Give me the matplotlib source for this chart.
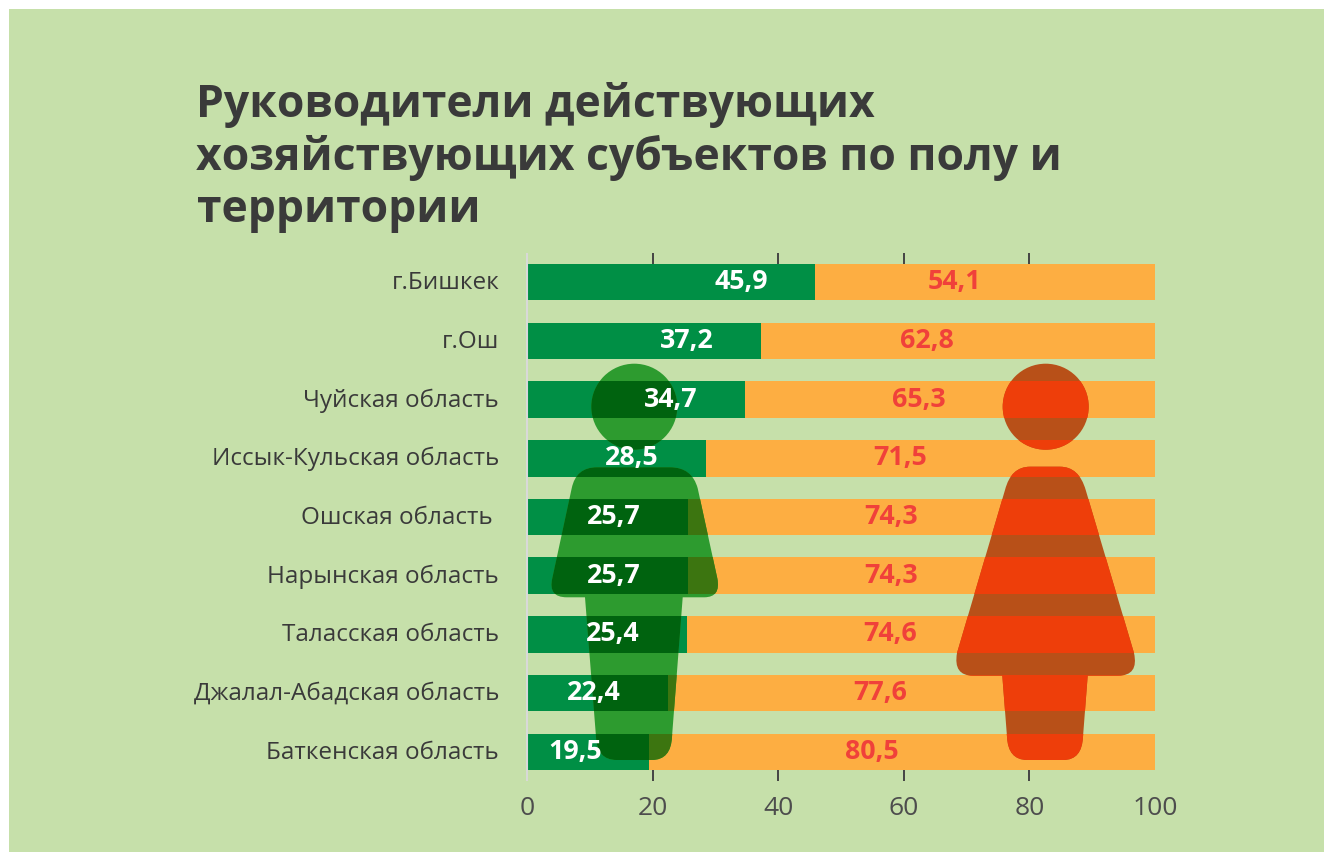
import matplotlib
matplotlib.use("Agg")
import matplotlib.pyplot as plt
from matplotlib.path import Path
from matplotlib.patches import PathPatch, Rectangle
from matplotlib.transforms import Affine2D

plt.rcParams['font.family'] = ['Open Sans', 'DejaVu Sans']

regions = ["г.Бишкек", "г.Ош", "Чуйская область", "Иссык-Кульская область",
           "Ошская область ", "Нарынская область", "Таласская область",
           "Джалал-Абадская область", "Баткенская область"]
men = [45.9, 37.2, 34.7, 28.5, 25.7, 25.7, 25.4, 22.4, 19.5]
women = [54.1, 62.8, 65.3, 71.5, 74.3, 74.3, 74.6, 77.6, 80.5]
xticks = [0, 20, 40, 60, 80, 100]
title = "Руководители действующих\nхозяйствующих субъектов по полу и\nтерритории"

BG = "#c6e0aa"; GREEN = "#008f45"; ORANGE = "#fdae42"
TEXT = "#3a3a3a"; RED = "#f0413a"
MAN_BG = "#2d9b2f"; MAN_GREEN = "#00630f"; MAN_ORANGE = "#3c7510"
WOMAN_BG = "#b85018"; WOMAN_ORANGE = "#ee3e0a"

W, H = 1324, 852
fig = plt.figure(figsize=(W / 100, H / 100), dpi=100, facecolor="white")
px = Affine2D().scale(1 / W, -1 / H).translate(0, 1) + fig.transFigure
fig.add_artist(Rectangle((9, 9), W - 9, H - 9, transform=px, facecolor=BG, edgecolor="none", zorder=-5))

L, R, T, B = 527, 1155, 264, 770
ax = fig.add_axes([L / W, 1 - B / H, (R - L) / W, (B - T) / H])
ax.patch.set_alpha(0)
ypos = list(range(len(regions)))
BAR_H = 0.623
ax.barh(ypos, men, height=BAR_H, color=GREEN, zorder=2)
ax.barh(ypos, women, left=men, height=BAR_H, color=ORANGE, zorder=2)
ax.set_xlim(0, 100)
ax.set_ylim(8.31, -0.31)


def shape(points):
    verts, codes = [points[0]], [Path.MOVETO]
    for p in points[1:]:
        if len(p) == 3:  # straight segment marker
            verts.append(p[:2]); codes.append(Path.LINETO)
        else:
            verts += [p[0], p[1]]; codes += [Path.CURVE3, Path.CURVE3]
    verts.append(points[0]); codes.append(Path.CLOSEPOLY)
    return Path(verts, codes)


man_body = shape([
    (597, 467.3),
    (670, 467.3, 0), ((692, 467.3), (697.7, 488.3)),
    (717.3, 578.3, 0), ((721, 597.3), (704.3, 597.3)),
    (682.7, 597.3, 0), (672, 736.7, 0), ((671, 760), (651.7, 760)),
    (616.7, 760, 0), ((597, 760), (596, 736.7)),
    (585, 597.3, 0), (566.7, 597.3, 0), ((548, 597.3), (552.3, 578.3)),
    (571.7, 488.3, 0), ((576, 467.3), (597, 467.3)),
])
woman_body = shape([
    (1030, 466.7),
    (1060, 466.7, 0), ((1079, 466.7), (1085.7, 490)),
    (1134, 653, 0), ((1139, 675.7), (1118, 675.7)),
    (1087.7, 675.7, 0), (1083, 736.7, 0), ((1082, 760), (1063.3, 760)),
    (1027.3, 760, 0), ((1008, 760), (1007, 736.7)),
    (1002.3, 675.7, 0), (973, 675.7, 0), ((953, 675.7), (957, 653)),
    (1005, 490, 0), ((1011, 466.7), (1030, 466.7)),
])


def circle(cx, cy, r):
    return Path.circle((cx, cy), r)


man = Path.make_compound_path(circle(634.3, 406.7, 43), man_body)
woman = Path.make_compound_path(circle(1045.7, 406.7, 43), woman_body)

man_patch = PathPatch(man, transform=px, facecolor=MAN_BG, edgecolor="none", zorder=3, clip_on=False)
woman_patch = PathPatch(woman, transform=px, facecolor=WOMAN_BG, edgecolor="none", zorder=3, clip_on=False)
ax.add_patch(man_patch)
ax.add_patch(woman_patch)

# Where a figure overlaps a bar the colours multiply: redraw the bars clipped to it.
for bars, patch in [
    (ax.barh(ypos, men, height=BAR_H, color=MAN_GREEN, zorder=4), man_patch),
    (ax.barh(ypos, women, left=men, height=BAR_H, color=MAN_ORANGE, zorder=4), man_patch),
    (ax.barh(ypos, women, left=men, height=BAR_H, color=WOMAN_ORANGE, zorder=4), woman_patch),
]:
    for b in bars:
        b.set_clip_path(patch)

for y, m, w in zip(ypos, men, women):
    ax.text(m - 11.8, y, f"{m:.1f}".replace(".", ","), color="white", fontsize=19.3,
            fontweight="bold", ha="center", va="center", zorder=6)
    ax.text(m + w / 2 - 4.9, y, f"{w:.1f}".replace(".", ","), color=RED, fontsize=19.3,
            fontweight="bold", ha="center", va="center", zorder=6)

for s in ("top", "right", "bottom"):
    ax.spines[s].set_visible(False)
ax.spines["left"].set_color("#d9d9d9")
ax.spines["left"].set_linewidth(1.5)
ax.spines["left"].set_bounds(8.31, -0.31)

ax.set_yticks(ypos, regions, fontsize=17.5, color=TEXT, va="center")
ax.tick_params(axis="y", length=0, pad=20)
shift = Affine2D().translate(0, -1)
for lab in ax.get_yticklabels():
    lab.set_transform(lab.get_transform() + shift)
ax.set_xticks(xticks, [str(t) for t in xticks], fontsize=19, color="#4d4d4d")
ax.tick_params(axis="x", which="major", length=8, width=1.4, color="#444444", top=True, bottom=True, pad=11)
for tick, val in zip(ax.xaxis.get_major_ticks(), xticks):
    if val == 0:
        tick.tick1line.set_markeredgecolor("#d9d9d9"); tick.tick2line.set_markeredgecolor("#d9d9d9")
    if val == 100:
        tick.tick1line.set_visible(False); tick.tick2line.set_visible(False)

fig.text(196.5 / W, 1 - 82 / H, title, fontsize=32, fontweight="bold", color=TEXT,
         ha="left", va="top", linespacing=1.2)

fig.savefig("out.png", dpi=100, facecolor=fig.get_facecolor())
